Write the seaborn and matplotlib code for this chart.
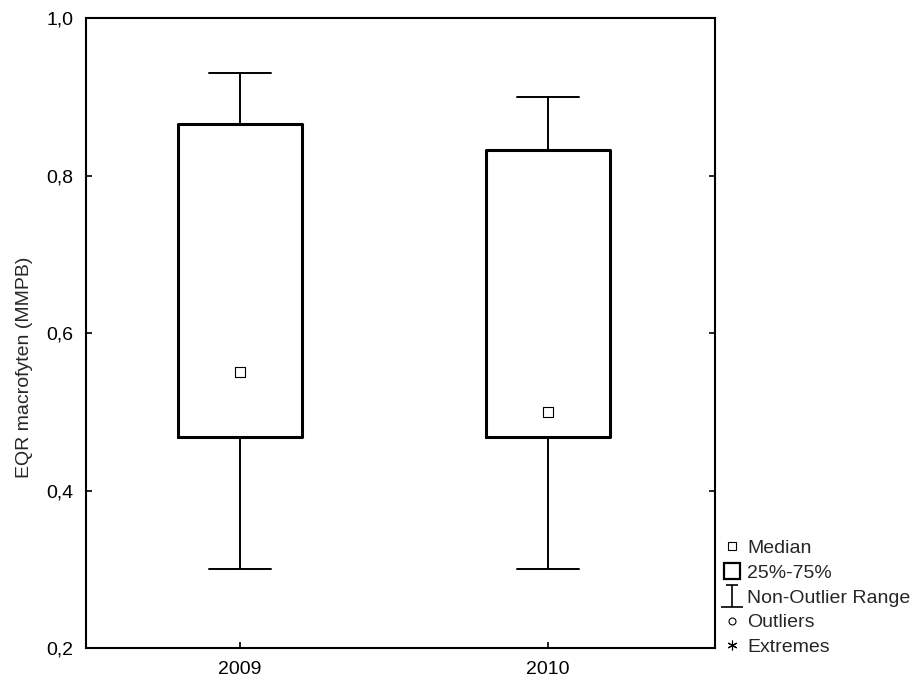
import matplotlib
matplotlib.use("Agg")
import numpy as np
import pandas as pd
import matplotlib.pyplot as plt
import seaborn as sns
from matplotlib.lines import Line2D
from matplotlib.path import Path
from matplotlib.ticker import FuncFormatter

# Box plot values
years = ["2009", "2010"]
medians = [0.55, 0.50]
q1 = [0.468, 0.468]
q3 = [0.866, 0.833]
whisker_low = [0.30, 0.30]
whisker_high = [0.93, 0.90]

sns.set_theme(style="white")
plt.rcParams['font.family'] = ['Liberation Sans', 'DejaVu Sans']

fig = plt.figure(figsize=(9.16, 6.8), dpi=100)
ax = fig.add_axes([0.0939, 0.047, 0.6867, 0.9265])

stats = []
for i, yr in enumerate(years):
    stats.append({'label': yr, 'med': medians[i], 'q1': q1[i], 'q3': q3[i],
                  'whislo': whisker_low[i], 'whishi': whisker_high[i], 'fliers': []})

pos = list(range(len(years)))
ax.bxp(stats, positions=pos, widths=0.4, capwidths=0.2, showfliers=False,
       boxprops=dict(color='black', linewidth=2.2),
       whiskerprops=dict(color='black', linewidth=1.4),
       capprops=dict(color='black', linewidth=1.4),
       medianprops=dict(linewidth=0))

df = pd.DataFrame({'pos': pos, 'median': medians})
sns.scatterplot(data=df, x='pos', y='median', marker='s', s=42, color='white',
                edgecolor='black', linewidth=0.8, ax=ax, zorder=5, legend=False)

ax.set_xlim(-0.5, 1.542)
ax.set_ylim(0.2, 1.0)
ax.set_xticks(pos)
ax.set_xticklabels(years)
ax.set_yticks([0.2, 0.4, 0.6, 0.8, 1.0])
ax.yaxis.set_major_formatter(FuncFormatter(lambda v, p: f"{v:.1f}".replace('.', ',')))
ax.set_xlabel("")
ax.set_ylabel("EQR macrofyten (MMPB)", fontsize=14)
ax.yaxis.set_label_coords(-0.084, 0.446)
ax.tick_params(axis='both', direction='in', length=4, width=1.2, colors='black',
               labelsize=14, right=True, bottom=True, left=True, top=False)
ax.tick_params(axis='y', pad=9)
ax.tick_params(axis='x', pad=9)
for s in ax.spines.values():
    s.set_linewidth(1.5)
    s.set_color('black')

# legend in Statistica style
whisker_path = Path([(-0.5, 1), (0.5, 1), (0, 1), (0, -1), (-1, -1), (1, -1)],
                    [Path.MOVETO, Path.LINETO, Path.MOVETO, Path.LINETO, Path.MOVETO, Path.LINETO])
handles = [
    Line2D([], [], ls='none', marker='s', markersize=6, markerfacecolor='white',
           markeredgecolor='black', markeredgewidth=0.8),
    Line2D([], [], ls='none', marker='s', markersize=12, markerfacecolor='white',
           markeredgecolor='black', markeredgewidth=1.6),
    Line2D([], [], ls='none', marker=whisker_path, markersize=16, markerfacecolor='none',
           markeredgecolor='black', markeredgewidth=1.2),
    Line2D([], [], ls='none', marker='o', markersize=5, markerfacecolor='white',
           markeredgecolor='black', markeredgewidth=0.8),
    Line2D([], [], ls='none', marker=(6, 2, 0), markersize=7, markeredgecolor='black',
           markeredgewidth=0.8),
]
labels = ["Median", "25%-75%", "Non-Outlier Range", "Outliers", "Extremes"]
fig.legend(handles, labels, loc='lower left', bbox_to_anchor=(0.772, 0.012),
           frameon=False, fontsize=14, handlelength=1.0, handletextpad=0.25,
           labelspacing=0.37, borderpad=0.3)

fig.savefig("out.png", dpi=100)
